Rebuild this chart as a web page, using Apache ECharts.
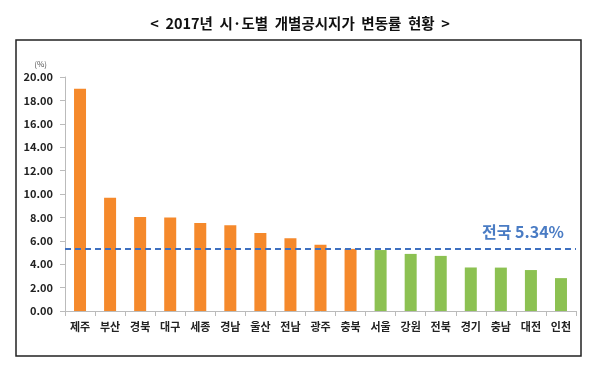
<!DOCTYPE html>
<html><head><meta charset="utf-8">
<script src="https://cdn.jsdelivr.net/npm/echarts@6/dist/echarts.min.js"></script>
<style>html,body{margin:0;padding:0;background:#fff}#c{width:600px;height:372px}</style>
</head><body><div id="c"></div>
<script>
const categories = ['제주','부산','경북','대구','세종','경남','울산','전남','광주','충북','서울','강원','전북','경기','충남','대전','인천'];
const values = [19.00, 9.68, 8.04, 7.99, 7.52, 7.32, 6.66, 6.22, 5.66, 5.31, 5.21, 4.88, 4.71, 3.72, 3.71, 3.50, 2.81];
const groups = ['상위','상위','상위','상위','상위','상위','상위','상위','상위','상위','하위','하위','하위','하위','하위','하위','하위'];
const nationalRate = 5.34;
const groupColors = { '상위': '#F5892B', '하위': '#8CC152' };
const FONT = '"Noto Sans CJK KR", "Noto Sans", sans-serif';

const chart = echarts.init(document.getElementById('c'));
chart.setOption({
  animation: false,
  textStyle: { fontFamily: FONT },
  title: {
    text: '<  2017년  시·도별  개별공시지가  변동률  현황  >',
    left: 'center', top: 11,
    textStyle: { fontFamily: FONT, fontSize: 14.5, fontWeight: 'bold', color: '#111' }
  },
  graphic: [
    { type: 'rect', shape: { x: 16, y: 40, width: 565, height: 316 },
      style: { fill: 'none', stroke: '#222', lineWidth: 1.5 } }
  ],
  grid: { left: 65, right: 24, top: 77, bottom: 61 },
  xAxis: {
    type: 'category', data: categories,
    axisLine: { lineStyle: { color: '#bbb' } },
    axisTick: { show: true, lineStyle: { color: '#bbb' } },
    axisLabel: { fontFamily: FONT, fontSize: 11, fontWeight: 'bold', color: '#222', margin: 10 }
  },
  yAxis: {
    type: 'value', min: 0, max: 20, interval: 2,
    name: '(%)', nameGap: 9, nameLocation: 'end',
    nameTextStyle: { fontFamily: FONT, fontSize: 8, color: '#555', align: 'right', padding: [0, 18, 0, 0] },
    axisLine: { show: true, lineStyle: { color: '#bbb' } },
    axisTick: { show: true, lineStyle: { color: '#bbb' } },
    splitLine: { show: false },
    axisLabel: { fontFamily: FONT, fontSize: 11, fontWeight: 'bold', color: '#222', margin: 12,
      formatter: v => v.toFixed(2) }
  },
  series: [{
    type: 'bar',
    data: values.map((v, i) => ({ value: v, itemStyle: { color: groupColors[groups[i]] } })),
    barWidth: 12,
    markLine: {
      symbol: 'none', silent: true,
      lineStyle: { type: [6, 4], color: '#3E70C0', width: 1.8 },
      data: [{ yAxis: nationalRate }],
      label: {
        position: 'insideEndTop', formatter: '전국 ' + nationalRate + '%',
        fontFamily: FONT, fontSize: 16, fontWeight: 'bold', color: '#4A7CC4', distance: [12, 9]
      }
    }
  }]
});
</script></body></html>
